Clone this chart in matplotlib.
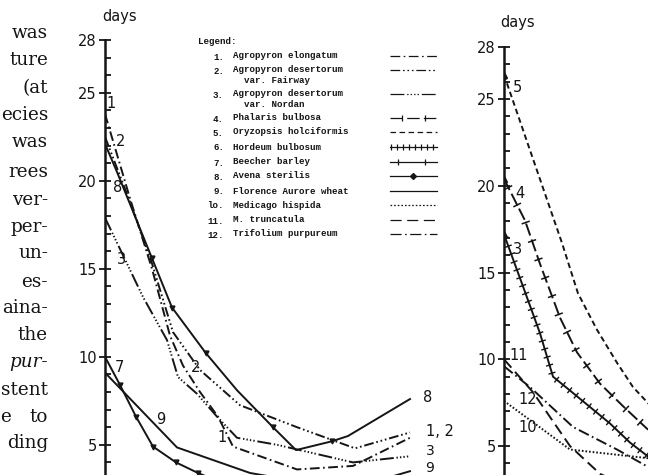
import matplotlib
matplotlib.use("Agg")
import matplotlib.pyplot as plt
from matplotlib import patheffects
from matplotlib.ticker import FixedLocator, MultipleLocator

plt.rcParams["lines.scale_dashes"] = False

# -------------------------------------------------
# Data (x: position along the unlabelled x axis, y: days)
# -------------------------------------------------
c1_x = [0, 2.5, 4.7, 6.5, 7.8, 9.5, 11.3, 12.8, 19.2, 24.8, 30.5]
c1_y = [23.8, 19.0, 15.0, 11.2, 9.5, 8.0, 6.6, 4.9, 3.6, 3.8, 5.4]
c2_x = [0, 2.5, 4.7, 6.8, 9.5, 13.5, 19.2, 25.0, 30.5]
c2_y = [22.5, 18.8, 15.3, 11.4, 9.25, 7.25, 6.0, 4.8, 5.7]
c3_x = [0, 3.8, 6.2, 7.3, 9.2, 11.2, 13.2, 17.2, 24.8, 30.5]
c3_y = [17.9, 13.4, 10.95, 8.85, 7.9, 6.6, 5.4, 5.0, 4.0, 4.35]
c7_x = [0, 1.5, 3.1, 4.8, 7.1, 9.3, 13.5]
c7_y = [10.0, 8.4, 6.6, 4.9, 4.0, 3.4, 2.4]
c8_x = [0, 1.2, 4.7, 6.7, 10.1, 13.2, 16.8, 19.1, 22.7, 24.3, 30.5]
c8_y = [22.1, 20.5, 15.6, 12.8, 10.2, 8.1, 6.0, 4.7, 5.2, 5.5, 7.6]
c9_x = [0, 7.2, 14.5, 22.5, 27.5, 30.5]
c9_y = [9.1, 4.85, 3.4, 2.6, 3.0, 3.5]

c4_x = [0, 2.1, 3.6, 5.6, 7.3, 9.6, 11.9, 14.3, 16.0]
c4_y = [20.4, 18.0, 15.5, 12.4, 10.4, 8.6, 7.3, 6.0, 5.4]
c5_x = [0, 5.8, 7.4, 9.3, 11.3, 12.9, 15.5]
c5_y = [26.4, 16.7, 13.8, 11.7, 9.8, 8.4, 6.8]
c6_x = [0, 1.9, 3.6, 4.9, 6.6, 8.6, 10.6, 12.6, 14.4, 16.0]
c6_y = [17.2, 14.2, 11.5, 9.0, 8.2, 7.25, 6.3, 5.2, 4.4, 3.8]
c10_x = [0, 6.6, 14.4, 16.0]
c10_y = [7.6, 4.8, 4.3, 4.2]
c11_x = [0, 2.9, 6.6, 9.6, 14.0]
c11_y = [10.0, 8.1, 5.0, 3.4, 2.2]
c12_x = [0, 2.6, 6.9, 11.3, 14.4, 16.0]
c12_y = [9.6, 8.4, 6.1, 4.8, 3.8, 3.4]

legend_nums = ["1.", "2.", "3.", "4.", "5.", "6.", "7.", "8.", "9.", "lo.", "11.", "12."]
legend_names = ["Agropyron elongatum", "Agropyron desertorum\n  var. Fairway",
                "Agropyron desertorum\n  var. Nordan", "Phalaris bulbosa",
                "Oryzopsis holciformis", "Hordeum bulbosum", "Beecher barley",
                "Avena sterilis", "Florence Aurore wheat", "Medicago hispida",
                "M. truncatula", "Trifolium purpureum"]

margin_text = ["was", "ture", "(at", "ecies", "was", "rees", "ver-", "per-",
               "un-", "es-", "aina-", "the", "pur-", "stent", "to", "ding"]

INK = "#151515"
W, H = 648, 475

# line styles (dash patterns in points)
ls1 = (0, (7, 2.5, 1.2, 2.5))
ls2 = (0, (7, 2, 1.2, 2, 1.2, 2, 1.2, 2))
ls3 = (0, (10, 2, 1, 1.5, 1, 1.5, 1, 1.5, 1, 2))
ls4 = (0, (9, 3))
ls5 = (0, (4, 2.5))
ls10 = (0, (1.2, 1.4))
ls11 = (0, (8, 4))
ls12 = (0, (8, 2.5, 1.2, 2.5))

fig = plt.figure(figsize=(6.48, 4.75), dpi=100)


def make_axes(x0, y28, px_per_day, xmax):
    bottom_px = y28 + 28 * px_per_day
    ax = fig.add_axes([x0 / W, (H - bottom_px) / H, xmax * 10 / W, 28 * px_per_day / H])
    ax.set_xlim(0, xmax)
    ax.set_ylim(0, 28)
    for s in ["top", "right", "bottom"]:
        ax.spines[s].set_visible(False)
    ax.spines["left"].set_linewidth(1.8)
    ax.spines["left"].set_color(INK)
    ax.set_xticks([])
    ax.yaxis.set_major_locator(FixedLocator([5, 10, 15, 20, 25, 28]))
    ax.yaxis.set_minor_locator(MultipleLocator(1))
    ax.tick_params(axis="y", which="major", direction="inout", length=8, width=1.3,
                   color=INK, labelsize=10.5, labelcolor=INK, pad=2)
    ax.tick_params(axis="y", which="minor", direction="in", length=4.5, width=1.3, color=INK)
    ax.patch.set_alpha(0)
    return ax


kw = dict(color=INK, lw=1.4, clip_on=True)

# -------------------------------------------------
# Left panel
# -------------------------------------------------
axl = make_axes(105, 40, 17.6, 32)
axl.plot(c1_x, c1_y, ls=ls1, **kw)
axl.plot(c2_x, c2_y, ls=ls2, **kw)
axl.plot(c3_x, c3_y, ls=ls3, **kw)
axl.plot(c7_x, c7_y, ls="-", marker="v", markersize=3.5, markevery=[1, 2, 3, 4, 5], **kw)
axl.plot(c8_x, c8_y, ls="-", marker="v", markersize=3.5, markevery=[2, 3, 4, 6, 8], **kw)
axl.plot(c9_x, c9_y, ls="-", **kw)

# -------------------------------------------------
# Right panel
# -------------------------------------------------
axr = make_axes(504, 47, 17.35, 20)
axr.plot(c5_x, c5_y, ls=ls5, marker="^", markersize=4, markevery=[0], **kw)
axr.plot(c4_x, c4_y, ls=ls4, marker="^", markersize=4, markevery=[0], **kw)
axr.plot(c4_x, c4_y, ls="-", color=INK, lw=1.1,
         path_effects=[patheffects.TickedStroke(spacing=14, angle=90, length=0.18),
                       patheffects.TickedStroke(spacing=14, angle=-90, length=0.18)])
axr.plot(c6_x, c6_y, ls="-", marker="^", markersize=4, markevery=[0], **kw)
axr.plot(c6_x, c6_y, ls="-", color=INK, lw=1.0,
         path_effects=[patheffects.TickedStroke(spacing=6, angle=90, length=0.35),
                       patheffects.TickedStroke(spacing=6, angle=-90, length=0.35)])
axr.plot(c10_x, c10_y, ls=ls10, **kw)
axr.plot(c11_x, c11_y, ls=ls11, **kw)
axr.plot(c12_x, c12_y, ls=ls12, **kw)

# -------------------------------------------------
# Overlay in pixel coordinates: labels, legend, page text
# -------------------------------------------------
ov = fig.add_axes([0, 0, 1, 1])
ov.set_xlim(0, W)
ov.set_ylim(H, 0)
ov.axis("off")
ov.set_zorder(5)

sans = dict(color=INK, fontsize=10.5, family="DejaVu Sans", va="center", ha="center")
ov.text(120, 17, "days", **sans)
ov.text(518, 23, "days", **sans)

for x, y, s in [(111, 103, "1"), (121, 142, "2"), (118, 188, "8"), (121, 260, "3"),
                (119, 367, "7"), (161, 420, "9"), (196, 367, "2"), (222, 437, "1"),
                (428, 397, "8"), (440, 431, "1, 2"),
                (517, 87, "5"), (520, 193, "4"), (518, 250, "3"), (519, 355, "11"),
                (528, 400, "12"), (528, 427, "10")]:
    ov.text(x, y, s, **sans)
end_lab = dict(sans, fontsize=10)
ov.text(430, 451, "3", **end_lab)
ov.text(430, 467.5, "9", **end_lab)

mono = dict(color=INK, fontsize=6.6, family="Liberation Mono", weight="bold", va="center")
ov.text(198, 41, "Legend:", **mono)
row_y = [57, 71, 95, 119, 133, 148, 163, 177, 192, 206, 221, 235]
for y, n, name in zip(row_y, legend_nums, legend_names):
    ov.text(224, y, n, ha="right", **mono)
    ov.text(233, y - 1 if "\n" not in name else y + 4, name, ha="left",
            linespacing=1.15, **mono)

samp = dict(color=INK, lw=0.9)
styles = [ls1, ls2, ls3, ls4, ls5, "-", "-", "-", "-", ls10, ls11, ls12]
for i, (y, st) in enumerate(zip(row_y, styles)):
    ys = y - 1
    ov.plot([390, 437], [ys, ys], ls=st, **samp)
    if i == 3:
        ov.plot([402, 425], [ys, ys], ls="none", marker="|", markersize=4, color=INK, mew=0.9)
    if i == 5:
        ov.plot([391, 397, 403, 409, 415, 421, 427, 433], [ys] * 8, ls="none",
                marker="|", markersize=4, color=INK, mew=0.9)
    if i == 6:
        ov.plot([398, 425], [ys, ys], ls="none", marker="|", markersize=4, color=INK, mew=0.9)
    if i == 7:
        ov.plot([413], [ys], ls="none", marker="D", markersize=3, color=INK)

serif = dict(color=INK, fontsize=13.2, family="DejaVu Serif", va="center", ha="right")
line_y = [33, 60, 88, 115, 142, 172, 200, 227, 253, 282, 308, 335, 362, 390, 417, 443]
for y, s in zip(line_y, margin_text):
    if s == "pur-":
        ov.text(48, y, s, style="italic", **serif)
    else:
        ov.text(48, y, s, **serif)
ov.text(0, 417, "e", color=INK, fontsize=13.2, family="DejaVu Serif", va="center", ha="left")

fig.savefig("out.png", dpi=100)
